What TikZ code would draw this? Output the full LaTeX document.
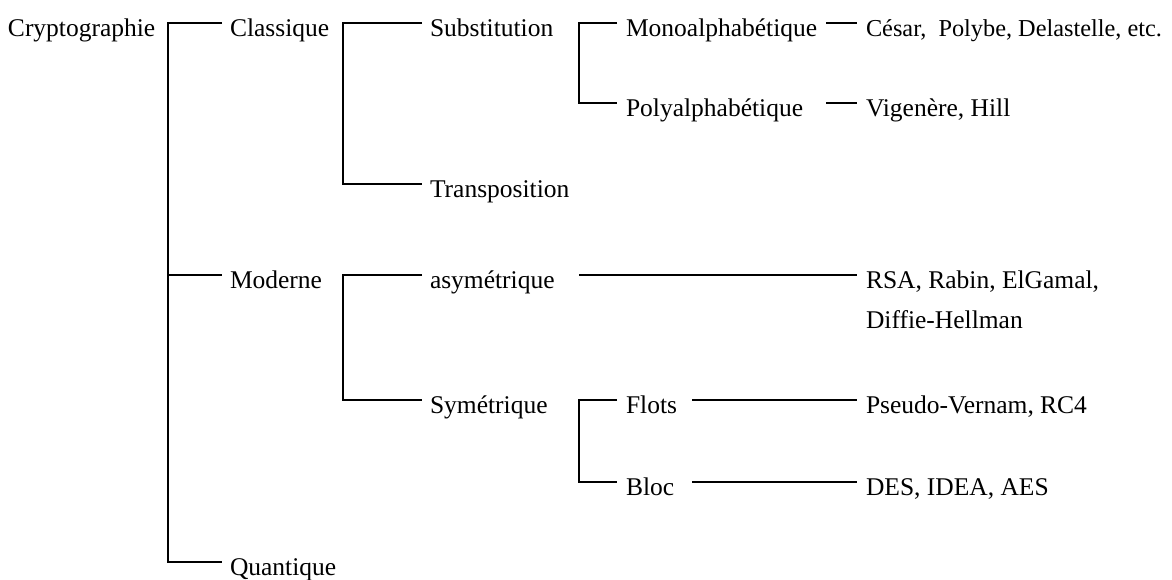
\documentclass[tikz,border=0pt]{standalone}
\usepackage{fontspec}
\setmainfont{Liberation Serif}
\begin{document}
\begin{tikzpicture}[x=1pt,y=-1pt,
  lab/.style={inner sep=0pt, outer sep=0pt, anchor=west, text height=32pt, text depth=6pt, font=\fontsize{25.5}{30}\selectfont},
  conn/.style={draw=black, line width=2.2pt}]
\useasboundingbox (0,0) rectangle (1172,579);
% nodes
\node[lab] (crypto) at (8,23) {Cryptographie};
\node[lab] (classique) at (230,23) {Classique};
\node[lab] (moderne) at (230,275) {Moderne};
\node[lab] (quantique) at (230,562) {Quantique};
\node[lab] (subst) at (430,23) {Substitution};
\node[lab] (transp) at (430,184) {Transposition};
\node[lab] (asym) at (430,275) {asymétrique};
\node[lab] (sym) at (430,400) {Symétrique};
\node[lab] (mono) at (626,23) {Monoalphabétique};
\node[lab] (poly) at (626,103) {Polyalphabétique};
\node[lab] (flots) at (626,400) {Flots};
\node[lab] (bloc) at (626,482) {Bloc};
\node[lab, font=\fontsize{24.3}{30}\selectfont] (cesar) at (866,23) {César,\ \ Polybe, Delastelle, etc.};
\node[lab] (vig) at (866,103) {Vigenère, Hill};
\node[lab] (rsa) at (866,275) {RSA, Rabin, ElGamal,};
\node[lab] (diffie) at (866,315) {Diffie-Hellman};
\node[lab] (pseudo) at (866,400) {Pseudo-Vernam, RC4};
\node[lab] (des) at (866,482) {DES, IDEA, AES};
% level 1
\draw[conn] ([xshift=-8pt]classique.west) -| ([xshift=-62pt]classique.west) |- ([xshift=-8pt]quantique.west);
\draw[conn] ([xshift=-62pt]moderne.west) -- ([xshift=-8pt]moderne.west);
% level 2
\draw[conn] ([xshift=-8pt]subst.west) -| ([xshift=-87pt]subst.west) |- ([xshift=-8pt]transp.west);
\draw[conn] ([xshift=-8pt]asym.west) -| ([xshift=-87pt]asym.west) |- ([xshift=-8pt]sym.west);
% level 3
\draw[conn] ([xshift=-9pt]mono.west) -| ([xshift=-47pt]mono.west) |- ([xshift=-9pt]poly.west);
\draw[conn] ([xshift=-9pt]flots.west) -| ([xshift=-47pt]flots.west) |- ([xshift=-9pt]bloc.west);
% leaves
\draw[conn] ([xshift=-40pt]cesar.west) -- ([xshift=-9pt]cesar.west);
\draw[conn] ([xshift=-40pt]vig.west) -- ([xshift=-9pt]vig.west);
\draw[conn] ([xshift=-287pt]rsa.west) -- ([xshift=-9pt]rsa.west);
\draw[conn] ([xshift=-174pt]pseudo.west) -- ([xshift=-9pt]pseudo.west);
\draw[conn] ([xshift=-174pt]des.west) -- ([xshift=-9pt]des.west);
\end{tikzpicture}
\end{document}
